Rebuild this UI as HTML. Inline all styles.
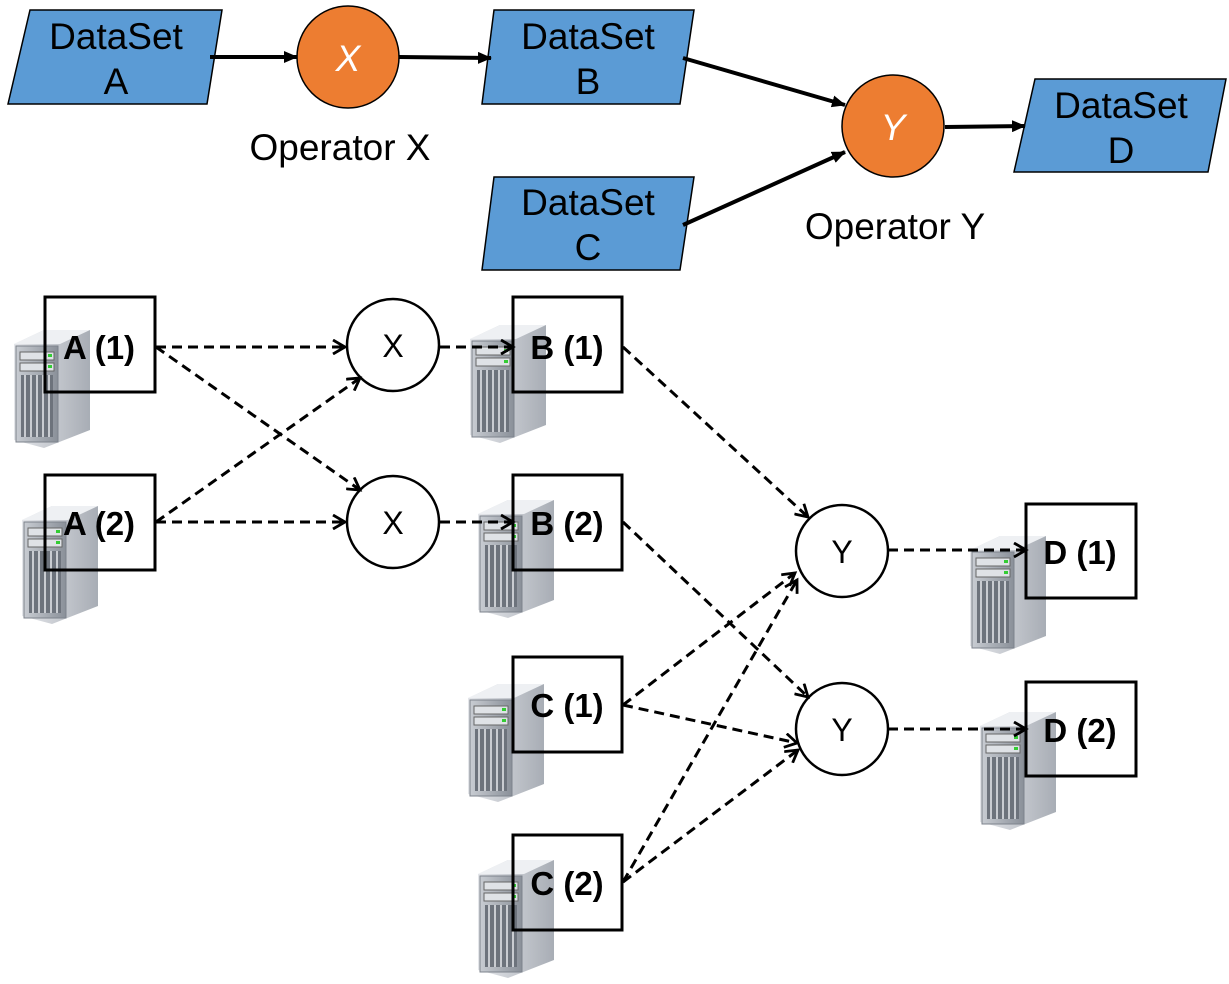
<!DOCTYPE html>
<html><head><meta charset="utf-8"><style>html,body{margin:0;padding:0;background:#fff}svg{display:block}</style></head><body>
<svg width="1229" height="984" viewBox="0 0 1229 984" xmlns="http://www.w3.org/2000/svg" font-family="Liberation Sans, Arial, sans-serif">
<defs>
<marker id="solid" markerWidth="14" markerHeight="12" refX="13" refY="6" orient="auto" markerUnits="userSpaceOnUse"><path d="M0,0 L14,6 L0,12 Z" fill="#000"/></marker>
<marker id="open" markerWidth="16" markerHeight="16" refX="13" refY="8" orient="auto" markerUnits="userSpaceOnUse"><path d="M1,1 L13,8 L1,15" fill="none" stroke="#000" stroke-width="2.8"/></marker>
<linearGradient id="sfront" x1="0" x2="1"><stop offset="0" stop-color="#c8ccd2"/><stop offset="1" stop-color="#8a9099"/></linearGradient>
<linearGradient id="sside" x1="0" x2="1"><stop offset="0" stop-color="#e4e6ea"/><stop offset="1" stop-color="#a8adb5"/></linearGradient>
<g id="srv">
<polygon points="0,14 30,0 76,0 76,100 30,118 0,110" fill="url(#sside)"/>
<polygon points="0,14 30,0 76,0 46,14" fill="#eef0f3"/>
<rect x="2" y="16" width="42" height="96" fill="url(#sfront)" stroke="#7d838c"/>
<rect x="6" y="22" width="34" height="8" fill="#dfe2e6" stroke="#666"/>
<rect x="6" y="33" width="34" height="8" fill="#dfe2e6" stroke="#666"/>
<rect x="34" y="24" width="4" height="3" fill="#3c3"/><rect x="34" y="35" width="4" height="3" fill="#3c3"/>
<rect x="7" y="45" width="32" height="62" fill="#6d737c"/>
<path d="M11 45v62M17 45v62M23 45v62M29 45v62M35 45v62" stroke="#c9ccd1" stroke-width="2"/>
</g>
</defs>

<g stroke="#000" stroke-width="1.5" fill="#5b9bd5">
<polygon points="30,10 222,10 207,104 8,104"/>
<polygon points="494,10 694,10 680,104 482,104"/>
<polygon points="494,177 694,177 680,270 482,270"/>
<polygon points="1035,79 1226,79 1208,172 1014,172"/>
</g>
<g font-size="37" text-anchor="middle" fill="#000">
<text x="116" y="49">DataSet</text><text x="116" y="94">A</text>
<text x="588" y="49">DataSet</text><text x="588" y="94">B</text>
<text x="588" y="215">DataSet</text><text x="588" y="260">C</text>
<text x="1121" y="118">DataSet</text><text x="1121" y="163">D</text>
</g>
<g stroke="#000" stroke-width="1.5" fill="#ed7d31">
<circle cx="348" cy="57" r="51"/>
<circle cx="893" cy="126" r="51"/>
</g>
<g font-size="37" text-anchor="middle" fill="#fff" font-style="italic">
<text x="348" y="71">X</text><text x="893" y="140">Y</text>
</g>
<g font-size="37" text-anchor="middle" fill="#000">
<text x="340" y="160">Operator X</text><text x="895" y="239">Operator Y</text>
</g>
<g stroke="#000" stroke-width="4" marker-end="url(#solid)">
<line x1="210" y1="57" x2="297" y2="57"/>
<line x1="399" y1="57" x2="491" y2="58"/>
<line x1="683" y1="58" x2="845" y2="105"/>
<line x1="683" y1="225" x2="845" y2="152"/>
<line x1="945" y1="127" x2="1025" y2="126"/>
</g>

<use href="#srv" x="14" y="330"/>
<use href="#srv" x="22" y="506"/>
<use href="#srv" x="470" y="325"/>
<use href="#srv" x="478" y="500"/>
<use href="#srv" x="468" y="684"/>
<use href="#srv" x="478" y="860"/>
<use href="#srv" x="970" y="536"/>
<use href="#srv" x="980" y="712"/>

<g stroke="#000" stroke-width="3" fill="none">
<rect x="45" y="297" width="110" height="95"/>
<rect x="45" y="475" width="110" height="95"/>
<rect x="513" y="297" width="109" height="95"/>
<rect x="513" y="475" width="109" height="95"/>
<rect x="513" y="657" width="109" height="95"/>
<rect x="513" y="835" width="109" height="95"/>
<rect x="1026" y="504" width="110" height="94"/>
<rect x="1026" y="682" width="110" height="94"/>
</g>
<g font-size="33" font-weight="bold" text-anchor="middle" fill="#000">
<text x="99" y="359">A (1)</text>
<text x="99" y="535">A (2)</text>
<text x="567" y="359">B (1)</text>
<text x="567" y="535">B (2)</text>
<text x="567" y="717">C (1)</text>
<text x="567" y="895">C (2)</text>
<text x="1080" y="564">D (1)</text>
<text x="1080" y="742">D (2)</text>
</g>
<g stroke="#000" stroke-width="2.5" fill="#fff">
<circle cx="393" cy="345" r="46"/>
<circle cx="393" cy="522" r="46"/>
<circle cx="842" cy="551" r="46"/>
<circle cx="842" cy="729" r="46"/>
</g>
<g font-size="32" text-anchor="middle" fill="#000">
<text x="393" y="357">X</text><text x="393" y="534">X</text>
<text x="842" y="563">Y</text><text x="842" y="741">Y</text>
</g>
<g stroke="#000" stroke-width="3" stroke-dasharray="10,6" fill="none" marker-end="url(#open)">
<line x1="156" y1="347" x2="345" y2="347"/>
<line x1="156" y1="347" x2="360" y2="490"/>
<line x1="156" y1="522" x2="360" y2="378"/>
<line x1="156" y1="522" x2="345" y2="522"/>
<line x1="440" y1="347" x2="513" y2="347"/>
<line x1="440" y1="522" x2="513" y2="522"/>
<line x1="623" y1="347" x2="808" y2="517"/>
<line x1="623" y1="522" x2="808" y2="697"/>
<line x1="623" y1="705" x2="795" y2="573"/>
<line x1="623" y1="705" x2="797" y2="743"/>
<line x1="623" y1="882" x2="797" y2="580"/>
<line x1="623" y1="882" x2="798" y2="750"/>
<line x1="888" y1="550" x2="1026" y2="550"/>
<line x1="888" y1="729" x2="1026" y2="729"/>
</g>
</svg>
</body></html>
